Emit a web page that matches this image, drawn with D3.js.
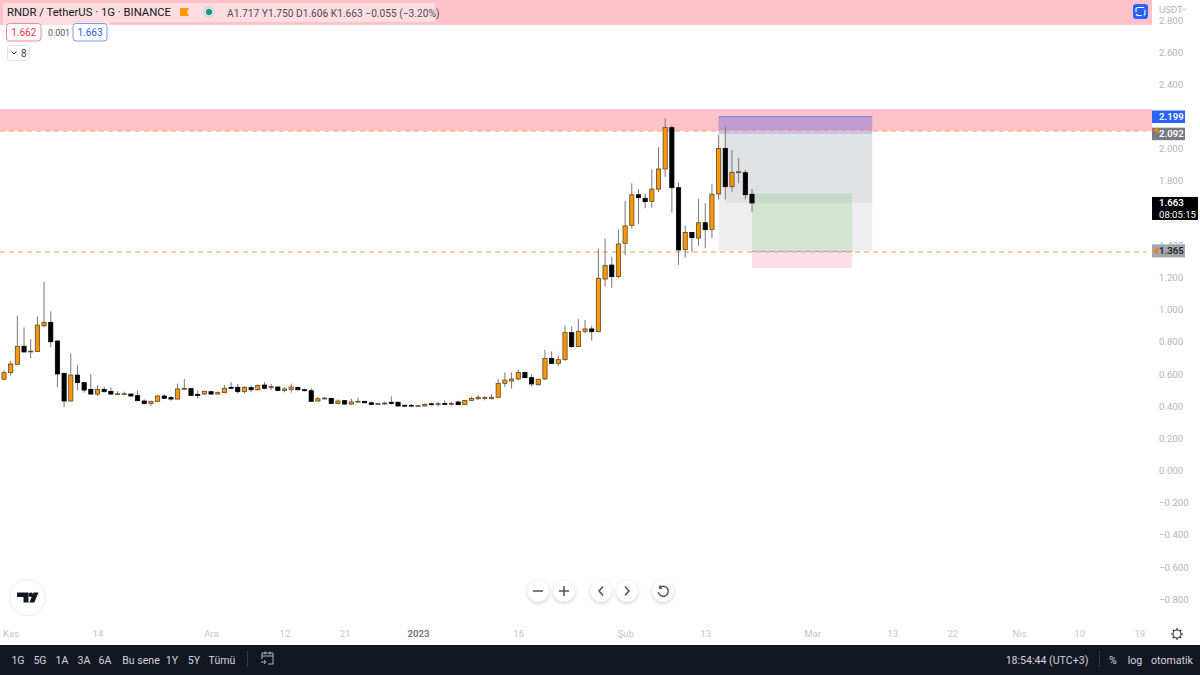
<!DOCTYPE html>
<html><head><meta charset="utf-8">
<script src="https://cdn.jsdelivr.net/npm/d3@7/dist/d3.min.js"></script>
<style>html,body{margin:0;padding:0;background:#fff;overflow:hidden}svg{display:block}text{font-family:Roboto,"Open Sans",sans-serif}</style>
</head><body><svg id="c" width="1200" height="675"></svg>
<script>
const startDate = "2022-10-31";
const open = [.567,.608,.660,.772,.737,.739,.900,.921,.805,.604,.432,.593,.546,.504,.475,.504,.492,.473,.473,.475,.465,.432,.417,.430,.463,.453,.444,.507,.509,.473,.475,.490,.475,.484,.517,.517,.490,.515,.502,
.531,.515,.519,.498,.504,.517,.502,.496,.432,.446,.448,.417,.434,.413,.428,.430,.421,.411,.415,.424,.424,.405,.405,.399,.401,.415,.411,.417,.413,.426,.409,.436,.446,.448,.446,.455,
.542,.556,.569,.610,.577,.533,.569,.697,.666,.689,.857,.770,.865,.880,.863,1.190,1.277,1.205,1.412,1.524,1.714,1.692,1.673,1.749,1.874,2.131,1.758,1.374,1.480,1.445,1.540,1.499,1.719,2.002,1.764,1.851,1.851,1.717];
const close = [.608,.662,.772,.737,.742,.904,.921,.800,.600,.432,.593,.546,.500,.475,.504,.490,.475,.477,.477,.463,.434,.417,.430,.463,.449,.444,.507,.510,.467,.467,.492,.475,.484,.511,.511,.490,.517,.502,.529,
.511,.521,.498,.507,.519,.502,.496,.430,.446,.450,.417,.432,.413,.426,.430,.421,.411,.417,.419,.417,.401,.401,.401,.403,.411,.409,.415,.411,.417,.409,.436,.448,.455,.453,.455,.542,
.562,.569,.610,.577,.538,.567,.697,.666,.689,.857,.770,.865,.880,.863,1.195,1.275,1.205,1.408,1.520,1.714,1.696,1.671,1.749,1.874,2.131,1.758,1.371,1.480,1.447,1.540,1.497,1.717,2.002,1.764,1.853,1.857,1.714,1.663];
const high = [.625,.681,.962,.890,.817,.958,1.172,.989,.809,.604,.728,.656,.546,.600,.529,.521,.517,.492,.490,.480,.496,.442,.434,.469,.475,.463,.540,.569,.511,.496,.496,.494,.492,.531,.550,.538,.525,.531,.536,
.550,.538,.523,.517,.540,.521,.507,.513,.457,.457,.453,.442,.436,.446,.453,.432,.428,.421,.428,.461,.430,.409,.413,.409,.417,.421,.426,.436,.428,.434,.438,.459,.469,.463,.475,.567,
.610,.610,.629,.614,.598,.571,.749,.741,.714,.902,.896,.940,.935,.900,1.379,1.443,1.329,1.499,1.677,1.785,1.749,1.720,1.872,2.009,2.189,2.145,1.791,1.523,1.480,1.689,1.661,1.779,2.085,2.137,1.992,1.940,1.868,1.750];
const low = [.562,.591,.658,.733,.699,.739,.890,.765,.517,.393,.428,.500,.484,.475,.463,.484,.471,.471,.469,.459,.430,.411,.401,.430,.444,.434,.442,.504,.463,.446,.471,.473,.473,.480,.504,.478,.478,.486,.496,
.504,.500,.496,.486,.484,.496,.492,.428,.428,.442,.413,.413,.409,.407,.426,.419,.407,.409,.407,.409,.397,.397,.397,.397,.397,.403,.397,.405,.403,.407,.407,.432,.438,.436,.442,.453,
.519,.509,.560,.573,.521,.527,.562,.662,.650,.683,.761,.770,.851,.807,.859,1.143,1.136,1.195,1.339,1.505,1.532,1.629,1.633,1.731,1.826,1.603,1.279,1.323,1.356,1.397,1.381,1.445,1.685,1.685,1.733,1.785,1.685,1.606];

const priceTicks = [2.8,2.6,2.4,2,1.8,1.4,1.2,1,.8,.6,.4,.2,0,-.2,-.4,-.6,-.8];
const timeTickDates = ["2022-11-01","2022-11-14","2022-12-01","2022-12-12","2022-12-21","2023-01-01","2023-01-16","2023-02-01","2023-02-13","2023-03-01","2023-03-13","2023-03-22","2023-04-01","2023-04-10","2023-04-19"];
const timeTickLabels = ["Kas","14","Ara","12","21","2023","16","Şub","13","Mar","13","22","Nis","10","19"];
const rangeButtons = ["1G","5G","1A","3A","6A","Bu sene","1Y","5Y","Tümü"];
const rangeButtonX = [18,40,62,84,105,141,172,194,222];

const supplyZone = [2.247,2.110];
const dashedLevels = [2.110,1.358];
const posDates = ["2023-02-15","2023-02-16","2023-02-20","2023-03-07","2023-03-10"];
const posPrices = {top:2.199,entry:2.092,mid:1.663,tp:1.722,stop:1.365,low:1.259};

const svg = d3.select("#c");
const day = i => new Date(Date.parse(startDate+"T00:00:00Z")+i*864e5);
const D = s => new Date(s+"T00:00:00Z");
const x = d3.scaleUtc().domain([day(0),day(112)]).range([4,752]);
const y = d3.scaleLinear().domain([0,2.6]).range([470.5,52.2]);
const P = posPrices, PD = posDates.map(D);

// bands
svg.append("rect").attr("x",0).attr("y",0).attr("width",1152).attr("height",25).attr("fill","#ffc2c8");
svg.append("rect").attr("x",0).attr("y",y(supplyZone[0])).attr("width",1152).attr("height",y(supplyZone[1])-y(supplyZone[0])).attr("fill","#ffc2c8");

// position tool
const rr=(d0,d1,p0,p1,f,o)=>svg.append("rect").attr("x",x(d0)).attr("width",x(d1)-x(d0)).attr("y",y(p0)).attr("height",y(p1)-y(p0)).attr("fill",f).attr("fill-opacity",o);
rr(PD[0],PD[4],P.entry,P.stop,"#787b86",0.13);
rr(PD[1],PD[4],P.entry,P.mid,"#787b86",0.11);
rr(PD[0],PD[4],P.top,P.entry,"#4a50e0",0.35);
rr(PD[2],PD[3],P.tp,P.stop,"#4caf50",0.17);
rr(PD[2],PD[3],P.stop,P.low,"#ff6d8a",0.22);
svg.append("line").attr("x1",x(PD[0])).attr("x2",x(PD[4])).attr("y1",y(P.top)).attr("y2",y(P.top)).attr("stroke","#7a86e8").attr("stroke-width",1);
svg.append("line").attr("x1",x(PD[2])).attr("x2",x(PD[3])).attr("y1",y(P.stop)+.5).attr("y2",y(P.stop)+.5).attr("stroke","#7a9ae8").attr("stroke-width",1);

// dashed
svg.selectAll(".lvl").data(dashedLevels).join("line").attr("x1",0).attr("x2",1146).attr("y1",d=>y(d)).attr("y2",d=>y(d)).attr("stroke","#ffbb80").attr("stroke-width",1.5).attr("stroke-dasharray","5 4");

// candles
const idx = d3.range(open.length);
const g = svg.append("g");
g.selectAll(".w").data(idx).join("line").attr("x1",i=>x(day(i))).attr("x2",i=>x(day(i)))
 .attr("y1",i=>y(high[i])).attr("y2",i=>y(low[i])).attr("stroke","#777").attr("stroke-width",1);
g.selectAll(".b").data(idx).join("rect").attr("x",i=>x(day(i))-2.1).attr("width",4.2)
 .attr("y",i=>y(Math.max(open[i],close[i])))
 .attr("height",i=>Math.max(.8,Math.abs(y(open[i])-y(close[i]))))
 .attr("fill",i=>close[i]>=open[i]?"#ff9800":"#000")
 .attr("stroke",i=>close[i]>=open[i]?"#5a4a30":"#000").attr("stroke-width",.8);

// y axis
const yAxis = d3.axisRight(y).tickValues(priceTicks).tickSize(0).tickPadding(0).tickFormat(d=>d3.format(".3f")(d).replace("-","−"));
const ya = svg.append("g").attr("transform","translate(1159,0)").call(yAxis);
ya.select(".domain").remove();
ya.selectAll("text").attr("fill","#b2b5be").style("font-size","9.6px").style("font-family",'Roboto,sans-serif');
svg.append("rect").attr("x",1153).attr("y",0).attr("width",47).attr("height",17).attr("fill","#fff");
svg.append("text").attr("x",1159).attr("y",13).attr("fill","#b2b5be").attr("font-size",9.6).text("USDT");
svg.append("path").attr("d","M1182 8.5l2 2 2-2").attr("fill","none").attr("stroke","#b2b5be");

// x axis
const xAxis = d3.axisBottom(x).tickValues(timeTickDates.map(D)).tickSize(0).tickPadding(0).tickFormat((d,i)=>timeTickLabels[i]);
const xa = svg.append("g").attr("transform","translate(0,630.5)").call(xAxis);
xa.select(".domain").remove();
xa.selectAll("text").attr("fill","#c4c6cd").style("font-size","9.6px").style("font-family",'Roboto,sans-serif')
 .filter((d,i)=>timeTickLabels[i]==="2023").attr("fill","#787b86").style("font-weight","700");

// price labels
const tag=(yc,h,w,bg,lines,col)=>{
 svg.append("rect").attr("x",1152).attr("y",yc-h/2).attr("width",w).attr("height",h).attr("fill",bg);
 lines.forEach((t,i)=>svg.append("text").attr("x",1159).attr("y",yc+3.5+(lines.length>1?(i?6:-5.5):0)).attr("fill",col).attr("font-size",9.6).attr("font-weight",i?400:600).text(t));
};
tag(y(P.top),12.5,33,"#2962ff",[d3.format(".3f")(P.top)],"#fff");
tag(y(P.entry),12.5,33,"#787b86",[d3.format(".3f")(P.entry)],"#fff");
tag(y(P.mid)+5.5,23,46,"#000",[d3.format(".3f")(P.mid),"08:05:15"],"#fff");
tag(y(P.stop),13,33,"#a3a6af",[d3.format(".3f")(P.stop)],"#222");
svg.append("path").attr("d",`M1153 ${y(P.entry)-3.5}l5 -3.5v7z`).attr("fill","#f57c00");
svg.append("path").attr("d",`M1153 ${y(P.stop)}l5 -3.5v7z`).attr("fill","#f57c00");

// legend
svg.append("rect").attr("x",3).attr("y",3).attr("width",432).attr("height",19).attr("fill","#ffdde0");
svg.append("rect").attr("x",3).attr("y",21).attr("width",107).attr("height",4).attr("fill","#ffdde0");
svg.append("text").attr("x",7).attr("y",16).attr("fill","#131722").attr("font-size",11.3).text("RNDR / TetherUS · 1G · BINANCE");
svg.append("path").attr("d","M180 8h9l-2 4 2 4h-9z").attr("fill","#ff9800");
svg.append("circle").attr("cx",209).attr("cy",12).attr("r",6.5).attr("fill","#d9dbdc");
svg.append("circle").attr("cx",209).attr("cy",12).attr("r",3).attr("fill","#089981");
svg.append("text").attr("x",227).attr("y",17).attr("fill","#4a4e5a").attr("font-size",10.2).text("A1.717  Y1.750  D1.606  K1.663  −0.055 (−3.20%)");
const box=(x0,w,st,tx,col)=>{
 svg.append("rect").attr("x",x0).attr("y",23.5).attr("width",w).attr("height",17.5).attr("rx",3).attr("fill","#fff").attr("stroke",st);
 svg.append("text").attr("x",x0+w/2).attr("y",36).attr("text-anchor","middle").attr("fill",col).attr("font-size",10).text(tx);
};
box(6.5,34.5,"#f7868f","1.662","#f23645");
box(73,34,"#7f9cf5","1.663","#2962ff");
svg.append("text").attr("x",59).attr("y",36).attr("text-anchor","middle").attr("fill","#555").attr("font-size",8.8).text("0.001");
svg.append("rect").attr("x",7.5).attr("y",45.5).attr("width",22).attr("height",15).attr("rx",2).attr("fill","#fff").attr("stroke","#e0e3eb");
svg.append("path").attr("d","M11.5 51.5l2.5 2.5 2.5-2.5").attr("fill","none").attr("stroke","#333").attr("stroke-width",1);
svg.append("text").attr("x",21).attr("y",56.5).attr("fill","#444").attr("font-size",10).text("8");

// fullscreen
svg.append("rect").attr("x",1133).attr("y",4).attr("width",15).attr("height",15).attr("rx",3).attr("fill","#2962ff");
svg.append("rect").attr("x",1136).attr("y",7.5).attr("width",9).attr("height",8).attr("rx",2).attr("fill","none").attr("stroke","#fff").attr("stroke-width",1.1).attr("stroke-dasharray","6 2");

// logo
svg.append("circle").attr("cx",27.5).attr("cy",597.5).attr("r",18).attr("fill","#fff").attr("stroke","#eceef3");
svg.append("path").attr("d","M17 592.5h11.5v10h-5v-5.5h-6.5z").attr("fill","#131722");
svg.append("circle").attr("cx",30.8).attr("cy",594.7).attr("r",2.3).attr("fill","#131722");
svg.append("path").attr("d","M33.5 592.5h5l-4.2 10h-5z").attr("fill","#131722");

// nav buttons
const defs=svg.append("defs");
const fl=defs.append("filter").attr("id","sh").attr("x","-50%").attr("y","-50%").attr("width","200%").attr("height","200%");
fl.append("feDropShadow").attr("dx",0).attr("dy",1.5).attr("stdDeviation",2).attr("flood-color","#000").attr("flood-opacity",.2);
const navX=[538,564,601,627,663];
const navIcons=["M-5 0H5","M-5 0H5M0-5V5","M2-4.5L-2 0L2 4.5","M-2-4.5L2 0L-2 4.5","M-2.5-5.5L-3.5-3L-1-2.5M-3.5-3A5 5 0 1 1 -4.7 1"];
navX.forEach((cx,i)=>{
 const n=svg.append("g").attr("transform",`translate(${cx},591)`);
 n.append("circle").attr("r",10.5).attr("fill","#fff").attr("filter","url(#sh)");
 n.append("path").attr("d",navIcons[i]).attr("fill","none").attr("stroke","#50535e").attr("stroke-width",1.5);
});

// gear
const gr=svg.append("g").attr("transform","translate(1177,634)");
gr.append("circle").attr("r",4).attr("fill","none").attr("stroke","#333").attr("stroke-width",1.1);
d3.range(8).forEach(k=>gr.append("line").attr("x1",0).attr("x2",0).attr("y1",-4).attr("y2",-6).attr("stroke","#333").attr("stroke-width",1.2).attr("transform",`rotate(${k*45})`));

// bottom bar
svg.append("rect").attr("x",0).attr("y",645).attr("width",1200).attr("height",30).attr("fill","#131722");
const bt=(tx,px,anc="middle")=>svg.append("text").attr("x",px).attr("y",663.5).attr("text-anchor",anc).attr("fill","#d1d4dc").attr("font-size",10.6).text(tx);
rangeButtons.forEach((t,i)=>bt(t,rangeButtonX[i]));
svg.append("line").attr("x1",247.5).attr("x2",247.5).attr("y1",651).attr("y2",667).attr("stroke","#363a45");
svg.append("path").attr("d","M262 659v-6h11v11h-5M262 656h11M265 651.5v3M270 651.5v3M261 662h5M264 660l2 2-2 2").attr("fill","none").attr("stroke","#b2b5be").attr("stroke-width",1);
bt("18:54:44 (UTC+3)",1047);
svg.append("line").attr("x1",1099.5).attr("x2",1099.5).attr("y1",651).attr("y2",667).attr("stroke","#363a45");
bt("%",1113); bt("log",1135); bt("otomatik",1172);
</script></body></html>
